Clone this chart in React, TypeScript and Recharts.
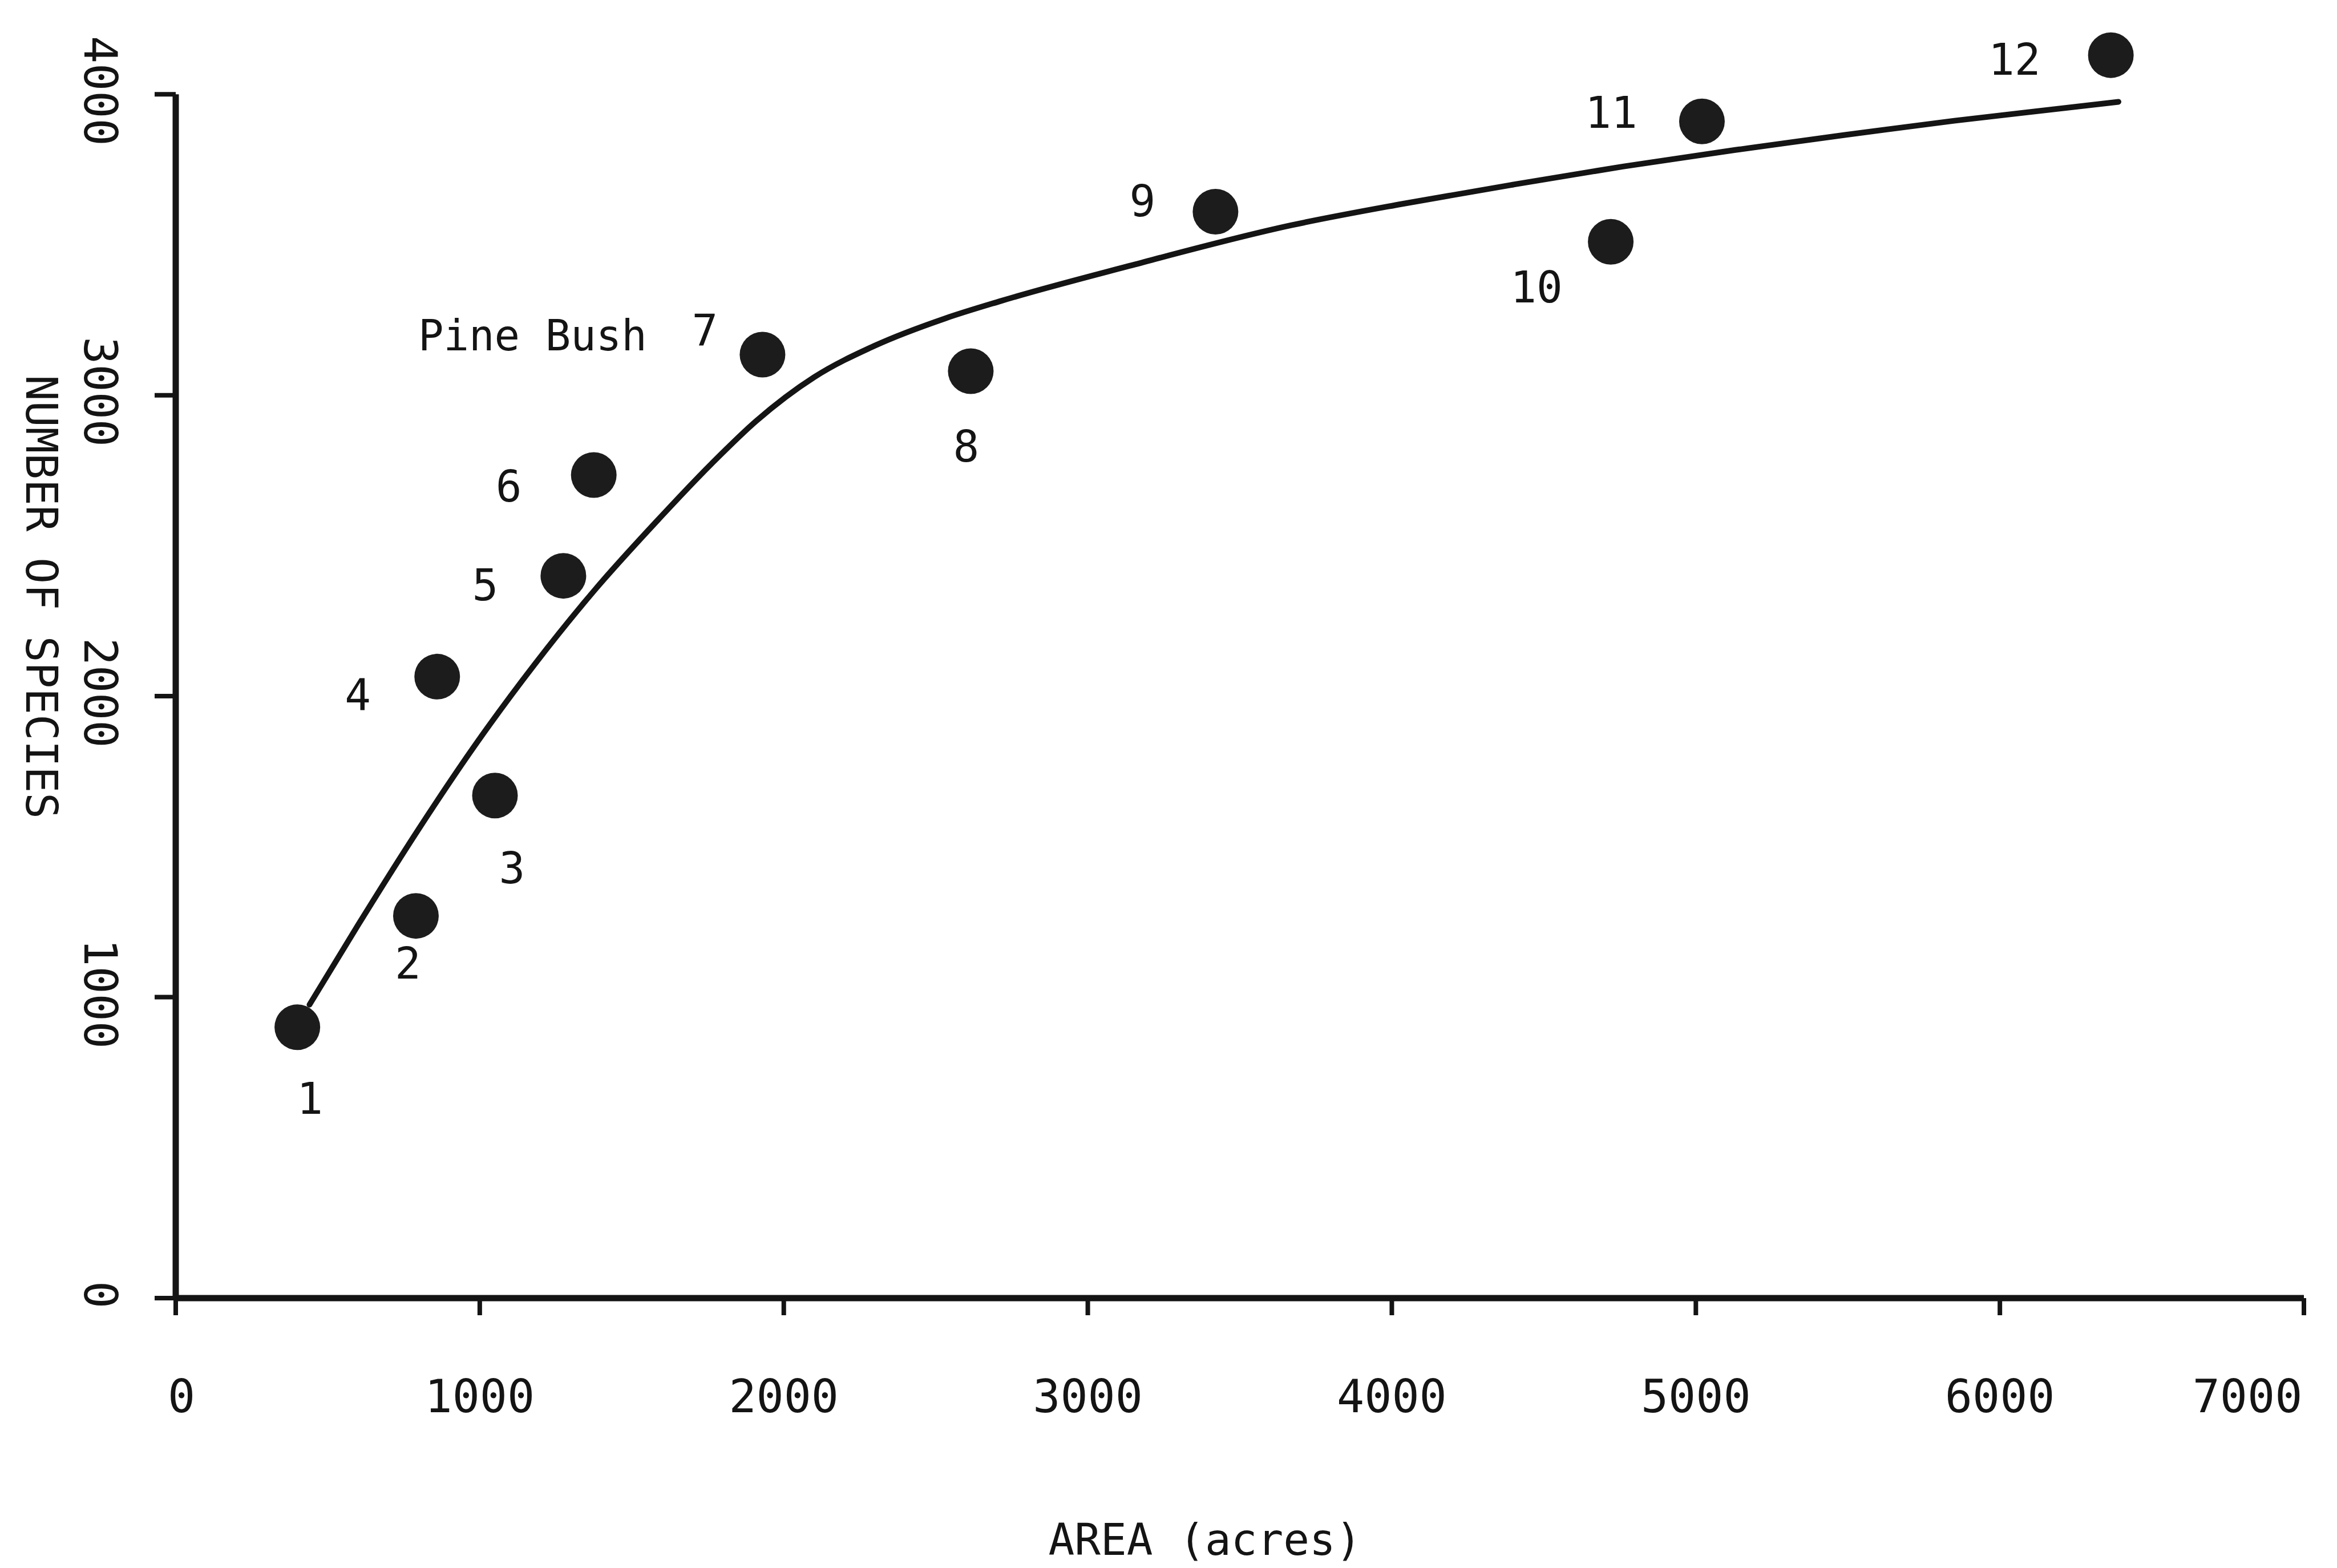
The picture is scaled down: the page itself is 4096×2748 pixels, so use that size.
import { ScatterChart, Scatter, XAxis, YAxis, ReferenceLine, Label } from 'recharts'

// sites (area in acres, number of species)
const siteIds = ['1', '2', '3', '4', '5', '6', '7', '8', '9', '10', '11', '12']
const areaAcres = [400, 790, 1050, 860, 1275, 1375, 1930, 2615, 3420, 4720, 5020, 6365]
const speciesCount = [900, 1270, 1670, 2065, 2400, 2735, 3135, 3080, 3610, 3510, 3910, 4130]

// hand drawn fitted curve
const curveArea = [440, 600, 800, 990, 1180, 1380, 1590, 1760, 1910, 2100, 2300, 2530, 2710, 3130, 3670, 4030, 4400, 4760, 5130, 5490, 5850, 6390]
const curveSpecies = [975, 1240, 1560, 1845, 2105, 2355, 2590, 2770, 2915, 3060, 3165, 3255, 3312, 3428, 3565, 3635, 3700, 3760, 3815, 3865, 3912, 3975]

const xTicks = [0, 1000, 2000, 3000, 4000, 5000, 6000, 7000]
const yTicks = [0, 1000, 2000, 3000, 4000]
const pineBushSite = '7'

// where each number sits relative to its dot (px)
const labelOffsets: Record<string, [number, number]> = {
  '1': [22, 125],
  '2': [-14, 83],
  '3': [30, 127],
  '4': [-139, 32],
  '5': [-137, 16],
  '6': [-149, 20],
  '7': [-101, -42],
  '8': [-8, 132],
  '9': [-128, -18],
  '10': [-130, 80],
  '11': [-159, -15],
  '12': [-169, 8],
}

const sites = siteIds.map((id, i) => ({ id, x: areaAcres[i], y: speciesCount[i] }))
const curve = curveArea.map((x, i) => ({ x, y: curveSpecies[i] }))

const FONT = '"DejaVu Sans Mono", "Liberation Mono", monospace'
const INK = '#141414'
const X_TICK = 30
const Y_TICK = 37

function SiteDot(props: any) {
  const { cx, cy, payload } = props
  const [dx, dy] = labelOffsets[payload.id] || [0, 0]
  return (
    <g>
      <circle cx={cx} cy={cy} r={40} fill="#1c1c1c" />
      <text
        x={cx + dx}
        y={cy + dy}
        textAnchor="middle"
        dominantBaseline="central"
        fontFamily={FONT}
        fontSize={76}
        fill={INK}
      >
        {payload.id}
      </text>
      {payload.id === pineBushSite && (
        <text
          x={cx - 403}
          y={cy - 33}
          textAnchor="middle"
          dominantBaseline="central"
          fontFamily={FONT}
          fontSize={74}
          fill={INK}
        >
          Pine Bush
        </text>
      )}
    </g>
  )
}

function XTick(props: any) {
  const { x, y, payload } = props
  const axisY = y - X_TICK - 2
  let shift = 0
  if (payload.value === 0) shift = 10
  if (payload.value === 7000) shift = -99
  return (
    <text
      x={x + shift}
      y={axisY + 172}
      textAnchor="middle"
      dominantBaseline="central"
      fontFamily={FONT}
      fontSize={80}
      fill={INK}
    >
      {payload.value}
    </text>
  )
}

function YTick(props: any) {
  const { x, y, payload } = props
  const axisX = x + Y_TICK + 2
  const cx = axisX - 133
  const cy = y - 6
  return (
    <text
      x={cx}
      y={cy}
      transform={`rotate(90 ${cx} ${cy})`}
      textAnchor="middle"
      dominantBaseline="central"
      fontFamily={FONT}
      fontSize={80}
      fill={INK}
    >
      {payload.value}
    </text>
  )
}

export default function App() {
  return (
    <div style={{ position: 'absolute', left: 0, top: 0, width: 4096, height: 2748, background: '#fff', overflow: 'hidden' }}>
      <ScatterChart width={4096} height={2748} margin={{ top: 7, right: 58, bottom: 373, left: 208 }}>
        <XAxis
          type="number"
          dataKey="x"
          domain={[0, 7000]}
          ticks={xTicks}
          height={100}
          axisLine={{ stroke: INK, strokeWidth: 11 }}
          tickLine={{ stroke: INK, strokeWidth: 8 }}
          tickSize={X_TICK}
          tick={<XTick />}
          interval={0}
        >
          <Label
            content={(p: any) => {
              const vb = p.viewBox
              return (
                <text
                  x={vb.x + vb.width / 2 - 61}
                  y={vb.y + 423}
                  textAnchor="middle"
                  dominantBaseline="central"
                  fontFamily={FONT}
                  fontSize={76}
                  fill={INK}
                >
                  AREA (acres)
                </text>
              )
            }}
          />
        </XAxis>
        <YAxis
          type="number"
          dataKey="y"
          domain={[0, 4300]}
          ticks={yTicks}
          width={100}
          axisLine={false}
          tickLine={{ stroke: INK, strokeWidth: 8 }}
          tickSize={Y_TICK}
          tick={<YTick />}
          interval={0}
        >
          <Label
            content={(p: any) => {
              const vb = p.viewBox
              const cx = vb.x + vb.width - 236
              const cy = vb.y + 1039
              return (
                <text
                  x={cx}
                  y={cy}
                  transform={`rotate(90 ${cx} ${cy})`}
                  textAnchor="middle"
                  dominantBaseline="central"
                  fontFamily={FONT}
                  fontSize={76}
                  fill={INK}
                >
                  NUMBER OF SPECIES
                </text>
              )
            }}
          />
        </YAxis>
        <ReferenceLine
          segment={[{ x: 0, y: 0 }, { x: 0, y: 4000 }]}
          stroke={INK}
          strokeWidth={11}
        />
        <Scatter
          data={curve}
          fill={INK}
          line={{ stroke: INK, strokeWidth: 10, strokeLinecap: 'round' }}
          lineJointType="monotoneX"
          shape={() => <g />}
          isAnimationActive={false}
        />
        <Scatter data={sites} fill="#1c1c1c" shape={<SiteDot />} isAnimationActive={false} />
      </ScatterChart>
    </div>
  )
}
